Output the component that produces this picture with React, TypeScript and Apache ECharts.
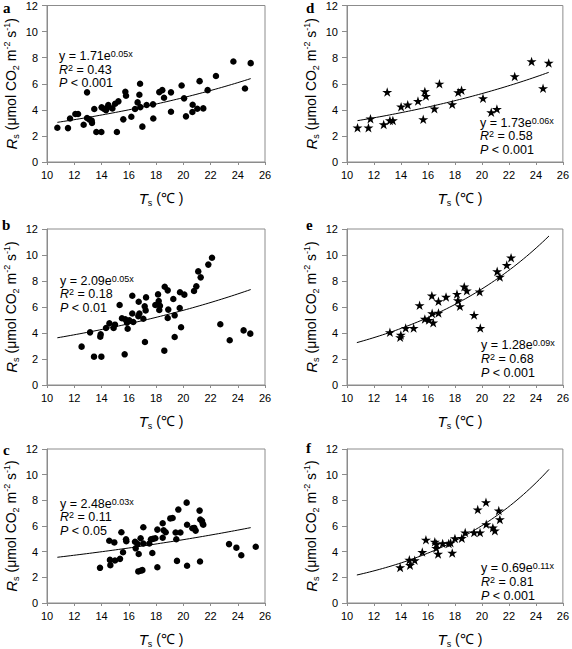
import React, { useEffect, useRef } from "react";
import * as echarts from "echarts";

// ---- data ----
const ts_a = [10.76, 11.54, 11.69, 12.08, 12.28, 12.69, 12.94, 12.94, 13.1, 13.28, 13.3, 13.47, 13.62, 13.99, 14.01, 14.2, 14.33, 14.45, 14.5, 14.8, 15.0, 15.13, 15.24, 15.6, 15.75, 15.8, 16.19, 16.46, 16.65, 16.78, 16.83, 16.85, 17.0, 17.31, 17.78, 17.8, 18.24, 18.46, 18.59, 19.1, 19.1, 19.88, 20.06, 20.2, 20.67, 20.69, 21.03, 21.2, 21.47, 21.79, 22.4, 23.68, 24.53, 24.95];
const rs_a = [2.63, 2.6, 3.34, 3.68, 3.68, 2.86, 5.34, 3.37, 3.27, 3.17, 3.0, 4.06, 2.3, 2.3, 4.19, 4.06, 3.98, 4.19, 4.37, 4.11, 4.47, 2.3, 4.65, 3.27, 5.39, 5.08, 3.47, 4.06, 4.57, 5.16, 6.0, 4.21, 2.71, 4.37, 4.42, 3.34, 5.36, 5.51, 4.93, 5.34, 3.85, 5.87, 4.88, 3.5, 3.83, 4.39, 4.08, 6.2, 4.11, 5.51, 6.59, 7.71, 5.64, 7.58];

const ts_b = [12.54, 13.16, 13.45, 13.94, 13.91, 13.99, 14.33, 14.58, 14.89, 14.99, 15.33, 15.5, 15.7, 15.75, 15.87, 15.92, 16.04, 16.26, 16.26, 16.33, 16.7, 16.73, 16.78, 17.07, 17.17, 17.19, 17.27, 17.24, 17.95, 18.15, 18.2, 18.24, 18.29, 18.61, 18.64, 18.86, 18.86, 18.9, 19.27, 19.37, 19.37, 19.74, 19.76, 19.84, 20.08, 20.79, 20.96, 21.1, 21.28, 21.84, 22.11, 22.72, 23.41, 24.43, 24.92];
const rs_b = [2.95, 4.05, 2.18, 3.9, 3.72, 2.18, 4.38, 4.74, 4.38, 4.64, 6.15, 5.13, 2.36, 5.05, 4.8, 4.33, 4.97, 6.87, 5.5, 4.85, 5.3, 6.4, 5.5, 5.1, 6.05, 3.31, 6.74, 5.74, 6.15, 6.97, 6.46, 5.77, 6.1, 2.64, 7.56, 7.28, 5.15, 5.8, 6.62, 5.36, 3.69, 5.92, 7.13, 4.44, 6.95, 7.23, 7.59, 8.74, 8.28, 9.26, 9.79, 4.67, 3.44, 4.2, 3.95];

const ts_c = [13.89, 14.57, 14.62, 14.65, 14.94, 14.99, 15.36, 15.46, 15.58, 15.8, 15.82, 16.46, 16.51, 16.65, 16.73, 16.7, 16.87, 16.87, 17.0, 17.07, 17.07, 17.51, 17.63, 17.73, 17.78, 17.95, 18.1, 18.1, 18.49, 18.49, 18.56, 18.71, 19.05, 19.22, 19.44, 19.49, 19.54, 19.64, 19.79, 20.25, 20.28, 20.28, 20.67, 20.81, 20.91, 21.2, 21.23, 21.25, 21.38, 21.43, 21.47, 23.36, 23.9, 24.26, 25.32];
const rs_c = [2.74, 4.85, 3.36, 2.95, 4.72, 3.31, 3.44, 5.51, 3.95, 4.97, 4.82, 4.77, 4.26, 4.6, 3.82, 2.46, 5.05, 2.51, 2.56, 5.9, 4.64, 4.64, 4.97, 3.9, 5.0, 5.05, 5.72, 2.79, 6.21, 5.08, 5.67, 5.51, 6.59, 6.62, 5.49, 4.97, 3.28, 7.28, 5.49, 7.82, 6.1, 2.9, 5.82, 5.85, 5.64, 7.2, 3.23, 6.51, 6.38, 6.18, 6.1, 4.59, 4.31, 3.72, 4.38];

const ts_d = [10.78, 11.59, 11.74, 12.72, 12.98, 13.18, 13.4, 14.01, 14.5, 15.26, 15.65, 15.77, 15.85, 16.48, 16.85, 17.8, 18.24, 18.49, 20.08, 20.69, 21.11, 22.43, 23.68, 24.53, 24.95];
const rs_d = [2.63, 2.63, 3.32, 2.88, 5.36, 3.19, 3.19, 4.24, 4.39, 4.67, 3.27, 5.41, 5.06, 4.09, 6.0, 4.42, 5.34, 5.51, 4.88, 3.81, 4.06, 6.56, 7.71, 5.65, 7.6];

const ts_e = [13.18, 13.99, 13.94, 14.35, 14.94, 15.38, 15.77, 16.07, 16.29, 16.31, 16.39, 16.78, 16.78, 17.34, 18.15, 18.22, 18.37, 18.69, 18.88, 19.42, 19.83, 19.88, 21.13, 21.33, 21.84, 22.16];
const rs_e = [4.05, 3.85, 3.67, 4.38, 4.38, 6.13, 5.08, 5.0, 6.87, 5.51, 4.79, 6.44, 5.54, 6.77, 7.0, 6.51, 6.05, 7.56, 7.26, 5.38, 7.18, 4.38, 8.74, 8.31, 9.23, 9.79];

const ts_f = [13.94, 14.62, 14.67, 15.02, 15.58, 15.85, 16.51, 16.63, 16.61, 16.75, 17.09, 17.54, 17.68, 17.8, 18.0, 18.51, 18.76, 19.42, 19.69, 19.86, 20.3, 20.32, 20.81, 20.96, 21.25, 21.33];
const rs_f = [2.77, 3.36, 2.95, 3.33, 3.97, 4.92, 4.77, 4.59, 4.28, 3.82, 4.64, 4.64, 4.69, 3.9, 5.03, 5.05, 5.49, 5.49, 7.28, 5.49, 7.85, 6.13, 5.87, 5.64, 7.2, 6.51];

// exponential fit y = a*exp(b*x): [a, b, xStart, xEnd]
const fit_a = [1.73, 0.0524, 10.76, 24.95];
const fit_b = [2.13, 0.0496, 10.76, 24.95];
const fit_c = [2.44, 0.0352, 10.76, 24.95];
const fit_d = [1.76, 0.0546, 10.78, 24.95];
const fit_e = [1.264, 0.0883, 10.73, 24.97];
const fit_f = [0.671, 0.1098, 10.73, 24.97];

// equation labels: [coefficient, exponent, R2, P]
const eq_a = ["1.71", "0.05x", "0.43", "< 0.001"];
const eq_b = ["2.09", "0.05x", "0.18", "< 0.01"];
const eq_c = ["2.48", "0.03x", "0.11", "< 0.05"];
const eq_d = ["1.73", "0.06x", "0.58", "< 0.001"];
const eq_e = ["1.28", "0.09x", "0.68", "< 0.001"];
const eq_f = ["0.69", "0.11x", "0.81", "< 0.001"];

const panelLetters = ["a", "b", "c", "d", "e", "f"];
const xTickMin = 10, xTickMax = 26, xTickStep = 2;
const yTickMin = 0, yTickMax = 12, yTickStep = 2;

const STAR = "path://M100,0 L122.45,69.1 L195.1,69.1 L136.3,111.8 L158.8,180.9 L100,138.2 L41.2,180.9 L63.7,111.8 L4.9,69.1 L77.55,69.1Z";
const FONT = "'Liberation Sans', Arial, Helvetica, sans-serif";

export default function App() {
  const ref = useRef<HTMLDivElement>(null);
  useEffect(() => {
    document.body.style.margin = "0";
    const chart = echarts.init(ref.current!, null, { renderer: "svg" });

    const panels = [
      { ts: ts_a, rs: rs_a, fit: fit_a, eq: eq_a, star: false, left: 47, top: 5, h: 157, eqX: 59, eqY: [55.5, 69.5, 83], letterX: 3, letterY: 7.5 },
      { ts: ts_b, rs: rs_b, fit: fit_b, eq: eq_b, star: false, left: 47, top: 229, h: 156, eqX: 60, eqY: [280.5, 294, 307.5], letterX: 2, letterY: 225 },
      { ts: ts_c, rs: rs_c, fit: fit_c, eq: eq_c, star: false, left: 47, top: 449, h: 156, eqX: 60, eqY: [503.5, 517, 530.5], letterX: 3, letterY: 449.5 },
      { ts: ts_d, rs: rs_d, fit: fit_d, eq: eq_d, star: true, left: 347, top: 5, h: 157, eqX: 480, eqY: [122.5, 136, 149.5], letterX: 306, letterY: 7.5 },
      { ts: ts_e, rs: rs_e, fit: fit_e, eq: eq_e, star: true, left: 347, top: 229, h: 156, eqX: 481, eqY: [345, 359, 373], letterX: 306, letterY: 225 },
      { ts: ts_f, rs: rs_f, fit: fit_f, eq: eq_f, star: true, left: 347, top: 449, h: 156, eqX: 481, eqY: [567.5, 581.5, 595.5], letterX: 306, letterY: 448 },
    ];

    const axisColor = "#8c8c8c";
    const grids: any[] = [];
    const xAxes: any[] = [];
    const yAxes: any[] = [];
    const series: any[] = [];
    const graphics: any[] = [];

    const richEq = {
      n: { fontSize: 12.5, fontFamily: FONT, lineHeight: 13, color: "#000" },
      i: { fontSize: 12.5, fontFamily: FONT, fontStyle: "italic", lineHeight: 13, color: "#000" },
      sup: { fontSize: 9, fontFamily: FONT, verticalAlign: "top", lineHeight: 3, color: "#000" },
    };

    panels.forEach((p, k) => {
      grids.push({ left: p.left, top: p.top, width: 218, height: p.h, show: true, borderColor: axisColor, borderWidth: 1, containLabel: false });
      xAxes.push({
        gridIndex: k, type: "value", min: xTickMin, max: xTickMax, interval: xTickStep,
        axisLine: { show: true, lineStyle: { color: axisColor } },
        axisTick: { show: true, length: 3, lineStyle: { color: axisColor } },
        axisLabel: { color: "#000", fontSize: 11, fontFamily: FONT, margin: 7, showMinLabel: true, showMaxLabel: true },
        splitLine: { show: false },
        name: "{it|T}{sub|s}{n| (℃ )}",
        nameLocation: "middle", nameGap: 27,
        nameTextStyle: {
          padding: [0, 0, 0, 10],
          rich: {
            it: { fontSize: 15, fontStyle: "italic", fontFamily: FONT, lineHeight: 18, color: "#000" },
            n: { fontSize: 14, fontFamily: FONT, lineHeight: 18, color: "#000" },
            sub: { fontSize: 9, fontFamily: FONT, verticalAlign: "bottom", lineHeight: 8, color: "#000" },
          },
        },
      });
      yAxes.push({
        gridIndex: k, type: "value", min: yTickMin, max: yTickMax, interval: yTickStep,
        axisLine: { show: true, lineStyle: { color: axisColor } },
        axisTick: { show: true, length: 5, lineStyle: { color: axisColor } },
        axisLabel: { color: "#000", fontSize: 11, fontFamily: FONT, margin: 9, showMinLabel: true, showMaxLabel: true },
        splitLine: { show: false },
        name: "{it|R}{sub|s}{n| (μmol CO}{sub|2}{n| m}{sup|-2}{n| s}{sup|-1}{n|)}",
        nameLocation: "middle", nameGap: 27, nameRotate: 90,
        nameTextStyle: {
          rich: {
            it: { fontSize: 15, fontStyle: "italic", fontFamily: FONT, lineHeight: 18, color: "#000" },
            n: { fontSize: 14, fontFamily: FONT, lineHeight: 18, color: "#000" },
            sub: { fontSize: 9, fontFamily: FONT, verticalAlign: "bottom", lineHeight: 8, color: "#000" },
            sup: { fontSize: 9, fontFamily: FONT, verticalAlign: "top", lineHeight: 6, color: "#000" },
          },
        },
      });
      series.push({
        type: "scatter", xAxisIndex: k, yAxisIndex: k,
        data: p.ts.map((x, j) => [x, p.rs[j]]),
        symbol: p.star ? STAR : "circle",
        symbolKeepAspect: true,
        symbolSize: p.star ? 10 : 6.5,
        itemStyle: { color: "#000", opacity: 1 },
        silent: true,
      });
      const [a, b, x0, x1] = p.fit;
      const curve: number[][] = [];
      const n = 60;
      for (let j = 0; j <= n; j++) {
        const x = x0 + ((x1 - x0) * j) / n;
        curve.push([x, a * Math.exp(b * x)]);
      }
      series.push({
        type: "line", xAxisIndex: k, yAxisIndex: k, data: curve,
        showSymbol: false, symbol: "none", smooth: false,
        lineStyle: { color: "#000", width: 1 }, silent: true, z: 1,
      });
      graphics.push({
        type: "text", x: p.letterX, y: p.letterY,
        style: { text: panelLetters[k], font: "bold 15px 'Liberation Serif', 'DejaVu Serif', serif", fill: "#000", verticalAlign: "middle" },
      });
      graphics.push({
        type: "text", x: p.eqX, y: p.eqY[0],
        style: { text: `{n|y = ${p.eq[0]}e}{sup|${p.eq[1]}}`, rich: richEq, verticalAlign: "middle", fill: "#000" },
      });
      graphics.push({
        type: "text", x: p.eqX, y: p.eqY[1],
        style: { text: `{i|R}{sup|2}{n| = ${p.eq[2]}}`, rich: richEq, verticalAlign: "middle", fill: "#000" },
      });
      graphics.push({
        type: "text", x: p.eqX, y: p.eqY[2],
        style: { text: `{i|P}{n| ${p.eq[3]}}`, rich: richEq, verticalAlign: "middle", fill: "#000" },
      });
    });

    chart.setOption({
      animation: false,
      backgroundColor: "#fff",
      textStyle: { fontFamily: FONT },
      grid: grids,
      xAxis: xAxes,
      yAxis: yAxes,
      series,
      graphic: graphics,
    });
    return () => chart.dispose();
  }, []);
  return <div ref={ref} style={{ width: 572, height: 649, position: "absolute", left: 0, top: 0 }} />;
}
